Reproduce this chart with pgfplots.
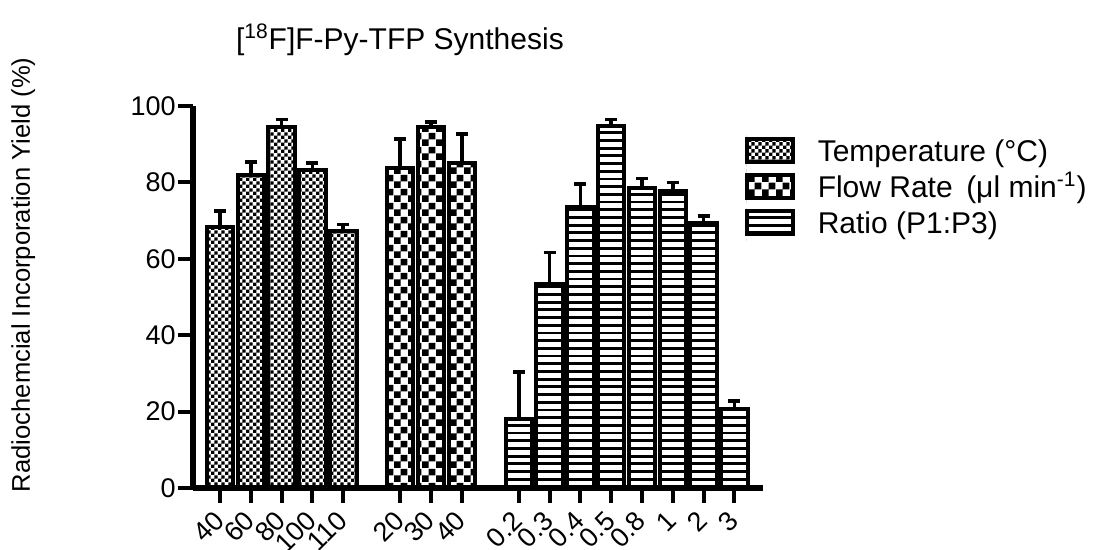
\documentclass[border=0pt]{standalone}
\usepackage{fontspec}
\setmainfont{Liberation Sans}
\usepackage{pgfplots}
\pgfplotsset{compat=1.18}
\usetikzlibrary{patterns}

\pgfdeclarepatternformonly{finechecker}{\pgfpointorigin}{\pgfqpoint{3.4pt}{3.4pt}}{\pgfqpoint{3.4pt}{3.4pt}}{%
  \pgfpathrectangle{\pgfpointorigin}{\pgfqpoint{1.7pt}{1.7pt}}%
  \pgfpathrectangle{\pgfqpoint{1.7pt}{1.7pt}}{\pgfqpoint{1.7pt}{1.7pt}}%
  \pgfusepath{fill}}
\pgfdeclarepatternformonly{coarsechecker}{\pgfpointorigin}{\pgfqpoint{6.8pt}{6.8pt}}{\pgfqpoint{6.8pt}{6.8pt}}{%
  \pgfpathrectangle{\pgfpointorigin}{\pgfqpoint{3.4pt}{3.4pt}}%
  \pgfpathrectangle{\pgfqpoint{3.4pt}{3.4pt}}{\pgfqpoint{3.4pt}{3.4pt}}%
  \pgfusepath{fill}}
\pgfdeclarepatternformonly{hstripes}{\pgfqpoint{-0.1pt}{0pt}}{\pgfqpoint{1.1pt}{3.85pt}}{\pgfqpoint{1pt}{3.85pt}}{%
  \pgfpathrectangle{\pgfqpoint{-0.1pt}{0pt}}{\pgfqpoint{1.2pt}{1.4pt}}%
  \pgfusepath{fill}}

\pgfplotsset{
  boxlegend/.style={legend image code/.code={%
    \path[draw=none] (0pt,-9pt) -- (0pt,9pt);
    \draw[##1, line width=2pt] (0pt,-5.8pt) rectangle (23pt,5.8pt);}},
  mybar/.style={ybar, bar width=0.86, bar shift=0pt, draw=black, line width=2pt, boxlegend,
    error bars/y dir=plus, error bars/y explicit,
    error bars/error bar style={line width=1.8pt, black},
    error bars/error mark options={rotate=90, mark size=3pt, line width=1.8pt, black}},
}

\begin{document}
\begin{tikzpicture}
\useasboundingbox (-96.5pt,-31pt) rectangle (453.5pt,244pt);
\begin{axis}[
  at={(0pt,0pt)}, anchor=south west,
  scale only axis, width=285pt, height=191pt,
  xmin=-0.88, xmax=17.63, ymin=0, ymax=100,
  axis x line*=bottom, axis y line*=left,
  axis line style={line width=3pt, -},
  xtick pos=bottom, ytick pos=left,
  tick align=outside,
  major tick length=7.5pt,
  tick style={black, line width=2pt},
  ytick={0,20,40,60,80,100},
  xtick={0,1,2,3,4,5.85,6.85,7.85,9.7,10.7,11.7,12.7,13.7,14.7,15.7,16.7},
  xticklabels={40,60,80,100,110,20,30,40,0.2,0.3,0.4,0.5,0.8,1,2,3},
  /pgf/number format/assume math mode=true,
  yticklabel style={font=\fontsize{13.5}{16}\selectfont, inner xsep=1pt},
  xticklabel style={font=\fontsize{13.5}{16}\selectfont, xshift=2pt, yshift=-4pt, rotate=45, anchor=east},
  ylabel={Radiochemcial Incorporation Yield (\%)},
  ylabel style={at={(rel axis cs:-0.298,0.558)}, anchor=center, font=\fontsize{12.8}{15}\selectfont},
  title={[\textsuperscript{18}F]F-Py-TFP Synthesis},
  title style={at={(rel axis cs:0.363,1.142)}, anchor=center, font=\fontsize{15}{18}\selectfont},
  legend style={at={(rel axis cs:0.968,0.93)}, anchor=north west, draw=none, fill=none,
    inner sep=0pt, outer sep=0pt, row sep=0pt, column sep=11.5pt,
    font=\fontsize{15}{18}\selectfont,
    nodes={inner sep=0pt, text height=12.5pt, text depth=2pt}},
  legend cell align=left,
  clip=false,
]
\addplot[pattern=finechecker, mybar] coordinates {
  (0,68.4) +- (0,4.1)
  (1,81.9) +- (0,3.5)
  (2,94.6) +- (0,1.9)
  (3,83.2) +- (0,1.8)
  (4,67.4) +- (0,1.6)
};
\addlegendentry{Temperature (°C)}
\addplot[pattern=coarsechecker, mybar] coordinates {
  (5.85,83.7) +- (0,7.6)
  (6.85,94.6) +- (0,1.2)
  (7.85,85.0) +- (0,7.6)
};
\addlegendentry{Flow Rate\hspace{0.45em}(μl min\textsuperscript{-1})}
\addplot[pattern=hstripes, mybar] coordinates {
  (9.7,18.1) +- (0,12.3)
  (10.7,53.4) +- (0,8.2)
  (11.7,73.6) +- (0,6.0)
  (12.7,94.8) +- (0,1.7)
  (13.7,78.6) +- (0,2.4)
  (14.7,77.7) +- (0,2.3)
  (15.7,69.5) +- (0,1.7)
  (16.7,20.6) +- (0,2.2)
};
\addlegendentry{Ratio (P1:P3)}
\end{axis}
\end{tikzpicture}
\end{document}
